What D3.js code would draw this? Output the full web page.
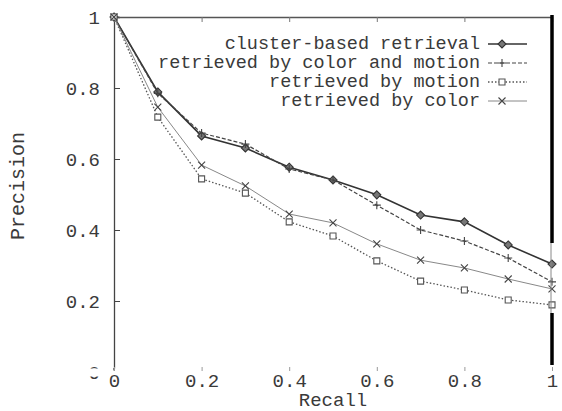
<!DOCTYPE html>
<html>
<head>
<meta charset="utf-8">
<script src="https://cdn.jsdelivr.net/npm/d3@7"></script>
<style>
  body { margin: 0; background: #fff; }
  svg text { font-family: "Courier New", Courier, "Nimbus Mono PS", "Liberation Mono", monospace; fill: #3a3a3a; }
</style>
</head>
<body>
<script>
// recall levels and precision per method
var recall = [0, 0.1, 0.2, 0.3, 0.4, 0.5, 0.6, 0.7, 0.8, 0.9, 1.0];
var clusterBased = [1, 0.789, 0.665, 0.631, 0.577, 0.541, 0.499, 0.442, 0.423, 0.358, 0.304];
var colorAndMotion = [1, 0.785, 0.673, 0.642, 0.572, 0.541, 0.470, 0.400, 0.369, 0.321, 0.254];
var byMotion = [1, 0.718, 0.544, 0.504, 0.423, 0.383, 0.313, 0.256, 0.231, 0.203, 0.189];
var byColor = [1, 0.746, 0.583, 0.524, 0.445, 0.420, 0.361, 0.315, 0.293, 0.262, 0.234];
var seriesNames = ["cluster-based retrieval", "retrieved by color and motion",
                   "retrieved by motion", "retrieved by color"];
var xTicks = [0, 0.2, 0.4, 0.6, 0.8, 1];
var yTicks = [0, 0.2, 0.4, 0.6, 0.8, 1];

var width = 562, height = 411;

var svg = d3.select("body").append("svg")
  .attr("width", width)
  .attr("height", height);

var x = d3.scaleLinear().domain([0, 1]).range([114, 552]);
var y = d3.scaleLinear().domain([0, 1]).range([372, 17]);

// line styles per series
var styles = [
  { stroke: "#333", width: 1.6, dash: null, marker: "diamond" },
  { stroke: "#444", width: 1.2, dash: "4,2", marker: "plus" },
  { stroke: "#555", width: 1.3, dash: "1.5,2", marker: "square" },
  { stroke: "#888", width: 1.0, dash: null, marker: "cross" }
];
var values = [clusterBased, colorAndMotion, byMotion, byColor];

function markerPath(kind) {
  if (kind == "diamond") return "M0,-4L4,0L0,4L-4,0Z";
  if (kind == "plus") return "M-4,0H4M0,-4V4";
  if (kind == "square") return "M-3,-3H3V3H-3Z";
  return "M-3.5,-3.5L3.5,3.5M-3.5,3.5L3.5,-3.5";
}
function markerFill(kind) {
  if (kind == "diamond") return "#777";
  if (kind == "square") return "#fff";
  return "none";
}

// y axis (ticks point inward)
var yAxis = svg.append("g")
  .attr("transform", "translate(" + x(0) + ",0)")
  .call(d3.axisLeft(y).tickValues(yTicks).tickSize(-6).tickPadding(14)
        .tickFormat(d3.format("")));
yAxis.select(".domain").attr("stroke", "#444").attr("stroke-width", 1.3);
yAxis.selectAll(".tick line").attr("stroke", "#444");
yAxis.selectAll("text").style("font-size", "19px").attr("fill", "#3a3a3a");

// top frame with mirrored ticks
var topAxis = svg.append("g")
  .attr("transform", "translate(0," + y(1) + ")")
  .call(d3.axisTop(x).tickValues(xTicks).tickSize(-5).tickFormat(""));
topAxis.select(".domain").attr("stroke", "#555").attr("stroke-width", 1.3);
topAxis.selectAll(".tick line").attr("stroke", "#777");

// the bottom edge of the scan is washed out
svg.append("rect")
  .attr("x", 0).attr("y", 368.5)
  .attr("width", width).attr("height", 8)
  .attr("fill", "#fff");
svg.append("line")
  .attr("x1", x(0)).attr("x2", x(0))
  .attr("y1", 368).attr("y2", 370.5)
  .attr("stroke", "#444").attr("stroke-width", 1.3);

// x axis: only faint tick marks and labels survive
var xAxis = svg.append("g")
  .attr("transform", "translate(0,371)")
  .call(d3.axisBottom(x).tickValues(xTicks).tickSize(-4).tickPadding(3)
        .tickFormat(d3.format("")));
xAxis.select(".domain").remove();
xAxis.selectAll(".tick line").attr("stroke", "#999");
xAxis.selectAll("text").style("font-size", "19px").attr("fill", "#3a3a3a");

// axis titles
svg.append("text")
  .attr("transform", "translate(" + 18 + "," + 186 + ")rotate(-90)")
  .attr("text-anchor", "middle")
  .attr("dominant-baseline", "central")
  .style("font-size", "20px")
  .text("Precision");

svg.append("text")
  .attr("x", x(0.5))
  .attr("y", 401)
  .attr("text-anchor", "middle")
  .attr("dominant-baseline", "central")
  .style("font-size", "19px")
  .text("Recall");

// series lines and markers
var line = d3.line()
  .x(function(d) { return x(d[0]); })
  .y(function(d) { return y(d[1]); });

values.forEach(function(vals, i) {
  var pts = recall.map(function(r, j) { return [r, vals[j]]; });
  var s = styles[i];
  svg.append("path")
    .datum(pts)
    .attr("d", line)
    .attr("fill", "none")
    .attr("stroke", s.stroke)
    .attr("stroke-width", s.width)
    .attr("stroke-dasharray", s.dash);
  svg.selectAll(".m" + i)
    .data(pts)
    .enter()
    .append("path")
    .attr("class", "m" + i)
    .attr("transform", function(d) { return "translate(" + x(d[0]) + "," + y(d[1]) + ")"; })
    .attr("d", markerPath(s.marker))
    .attr("fill", markerFill(s.marker))
    .attr("stroke", s.marker == "cross" ? "#444" : s.stroke)
    .attr("stroke-width", 1.1);
});

// legend
seriesNames.forEach(function(name, i) {
  var ly = 44 + i * 19;
  var s = styles[i];
  svg.append("text")
    .attr("x", 480)
    .attr("y", ly)
    .attr("text-anchor", "end")
    .attr("dominant-baseline", "central")
    .style("font-size", "18.5px")
    .text(name);
  svg.append("line")
    .attr("x1", 488).attr("x2", 527)
    .attr("y1", ly).attr("y2", ly)
    .attr("stroke", s.stroke)
    .attr("stroke-width", s.width)
    .attr("stroke-dasharray", s.dash);
  svg.append("path")
    .attr("transform", "translate(" + 502 + "," + ly + ")")
    .attr("d", markerPath(s.marker))
    .attr("fill", markerFill(s.marker))
    .attr("stroke", s.marker == "cross" ? "#444" : s.stroke)
    .attr("stroke-width", 1.1);
});

// heavy right edge left over from the scan
svg.append("line")
  .attr("x1", x(1)).attr("x2", x(1))
  .attr("y1", 15).attr("y2", 243)
  .attr("stroke", "#000").attr("stroke-width", 3.5);
svg.append("line")
  .attr("x1", x(1) - 1).attr("x2", x(1) - 1)
  .attr("y1", 243).attr("y2", 313)
  .attr("stroke", "#888").attr("stroke-width", 1);
svg.append("line")
  .attr("x1", x(1)).attr("x2", x(1))
  .attr("y1", 313).attr("y2", 365)
  .attr("stroke", "#000").attr("stroke-width", 3.5);
</script>
</body>
</html>
